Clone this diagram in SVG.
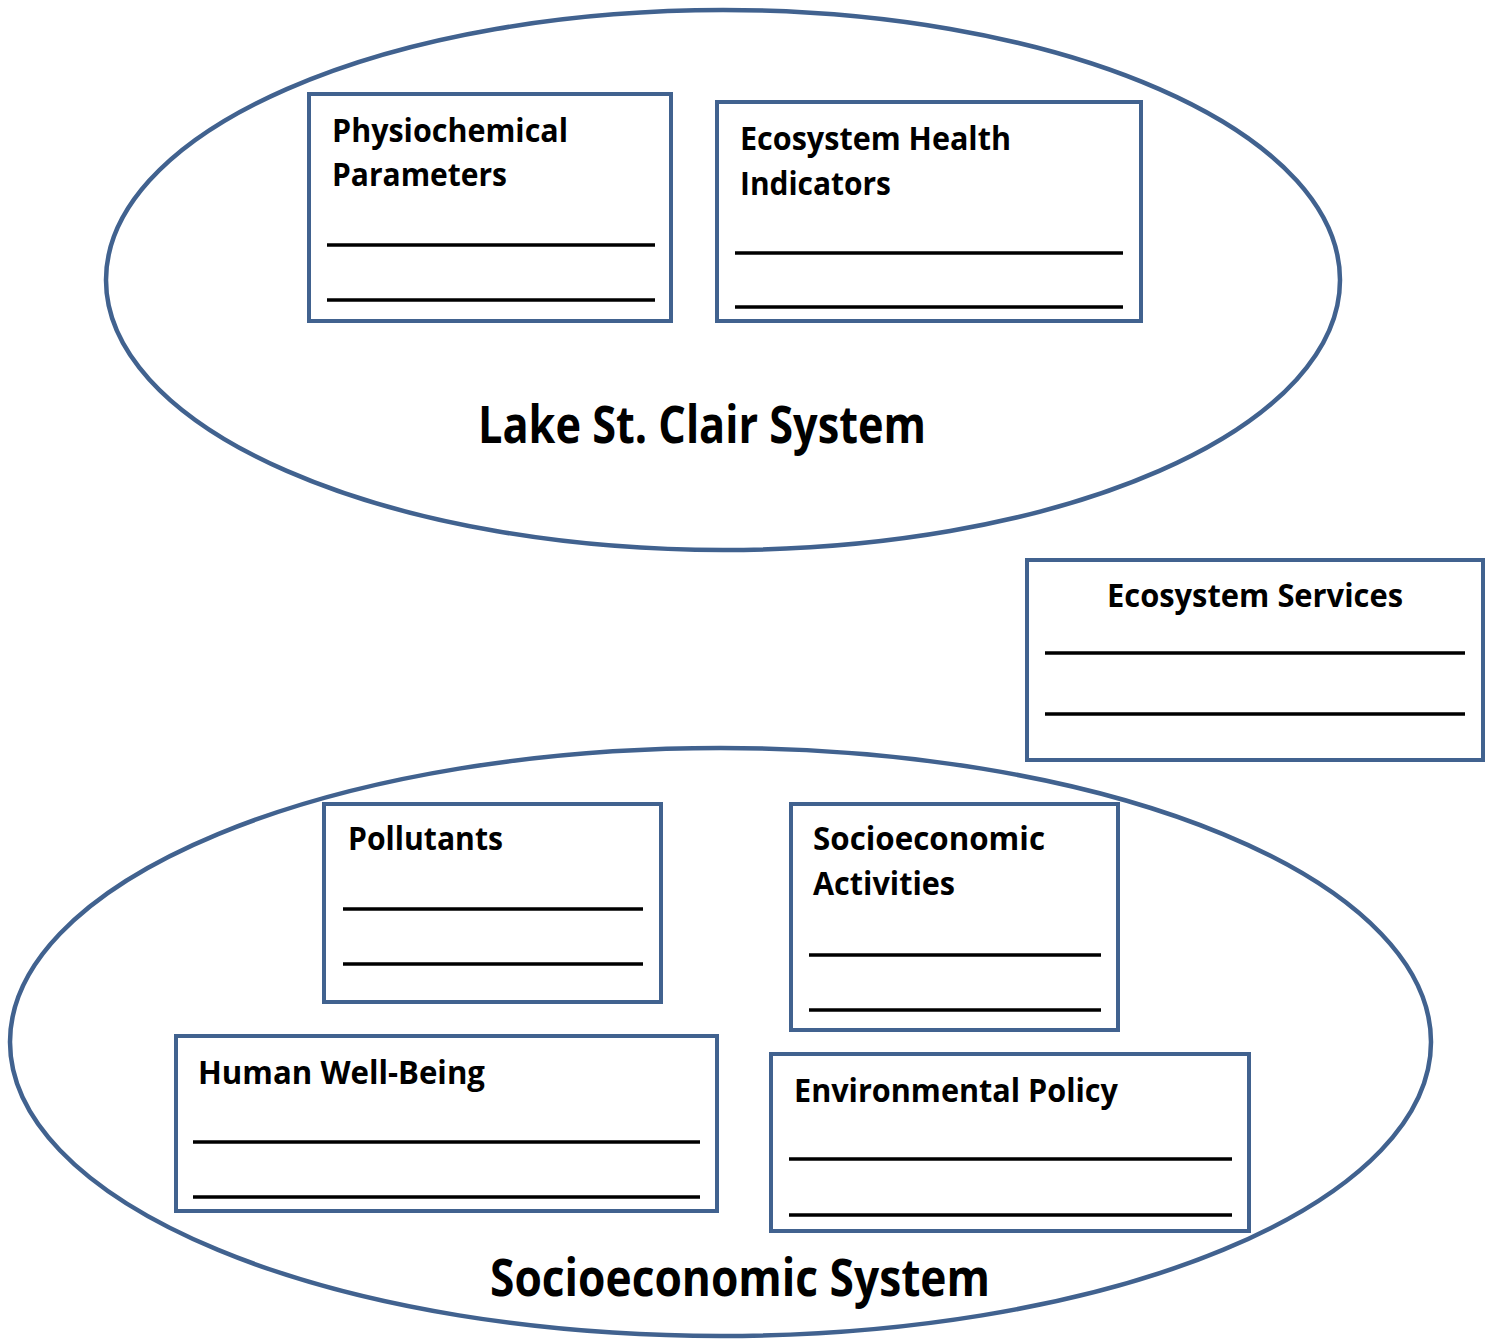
<svg xmlns="http://www.w3.org/2000/svg" width="1492" height="1341" viewBox="0 0 1492 1341">
  <style>
    .sys { fill: #ffffff; stroke: #41628f; stroke-width: 4.5; }
    .box { fill: #ffffff; stroke: #41628f; stroke-width: 4; }
    .rule { stroke: #000000; stroke-width: 3.5; }
    .lbl { font-family: "Open Sans", "Noto Sans", sans-serif; font-weight: bold; font-size: 33px; fill: #000000; }
    .title { font-family: "Open Sans", "Noto Sans", sans-serif; font-weight: bold; font-size: 52px; fill: #000000; }
  </style>
  <rect x="0" y="0" width="1492" height="1341" fill="#ffffff"/>

  <g id="lake-system">
    <ellipse class="sys" cx="723" cy="280" rx="617" ry="270"/>
    <text class="title" x="478" y="443" textLength="448" lengthAdjust="spacingAndGlyphs">Lake St. Clair System</text>
  </g>

  <g id="socioeconomic-system">
    <ellipse class="sys" cx="720.5" cy="1042" rx="710.5" ry="294"/>
    <text class="title" x="490" y="1296" textLength="500" lengthAdjust="spacingAndGlyphs">Socioeconomic System</text>
  </g>

  <g id="physiochemical-parameters">
    <rect class="box" x="309" y="94" width="362" height="227"/>
    <text class="lbl" x="332" y="142" textLength="236" lengthAdjust="spacingAndGlyphs">Physiochemical</text>
    <text class="lbl" x="332" y="186" textLength="175" lengthAdjust="spacingAndGlyphs">Parameters</text>
    <line class="rule" x1="327" y1="245" x2="655" y2="245"/>
    <line class="rule" x1="327" y1="300" x2="655" y2="300"/>
  </g>

  <g id="ecosystem-health-indicators">
    <rect class="box" x="717" y="102" width="424" height="219"/>
    <text class="lbl" x="740" y="150" textLength="271" lengthAdjust="spacingAndGlyphs">Ecosystem Health</text>
    <text class="lbl" x="740" y="195" textLength="151" lengthAdjust="spacingAndGlyphs">Indicators</text>
    <line class="rule" x1="735" y1="253" x2="1123" y2="253"/>
    <line class="rule" x1="735" y1="307" x2="1123" y2="307"/>
  </g>

  <g id="ecosystem-services">
    <rect class="box" x="1027" y="560" width="456" height="200"/>
    <text class="lbl" x="1107" y="607" textLength="296" lengthAdjust="spacingAndGlyphs">Ecosystem Services</text>
    <line class="rule" x1="1045" y1="653" x2="1465" y2="653"/>
    <line class="rule" x1="1045" y1="714" x2="1465" y2="714"/>
  </g>

  <g id="pollutants">
    <rect class="box" x="324" y="804" width="337" height="198"/>
    <text class="lbl" x="348" y="850" textLength="155" lengthAdjust="spacingAndGlyphs">Pollutants</text>
    <line class="rule" x1="343" y1="909" x2="643" y2="909"/>
    <line class="rule" x1="343" y1="964" x2="643" y2="964"/>
  </g>

  <g id="socioeconomic-activities">
    <rect class="box" x="791" y="804" width="327" height="226"/>
    <text class="lbl" x="813" y="850" textLength="232" lengthAdjust="spacingAndGlyphs">Socioeconomic</text>
    <text class="lbl" x="813" y="895" textLength="142" lengthAdjust="spacingAndGlyphs">Activities</text>
    <line class="rule" x1="809" y1="955" x2="1101" y2="955"/>
    <line class="rule" x1="809" y1="1010" x2="1101" y2="1010"/>
  </g>

  <g id="human-well-being">
    <rect class="box" x="176" y="1036" width="541" height="175"/>
    <text class="lbl" x="198" y="1084" textLength="287" lengthAdjust="spacingAndGlyphs">Human Well-Being</text>
    <line class="rule" x1="193" y1="1142" x2="700" y2="1142"/>
    <line class="rule" x1="193" y1="1197" x2="700" y2="1197"/>
  </g>

  <g id="environmental-policy">
    <rect class="box" x="771" y="1054" width="478" height="177"/>
    <text class="lbl" x="794" y="1102" textLength="324" lengthAdjust="spacingAndGlyphs">Environmental Policy</text>
    <line class="rule" x1="789" y1="1159" x2="1232" y2="1159"/>
    <line class="rule" x1="789" y1="1215" x2="1232" y2="1215"/>
  </g>

  <g id="connectors"></g>
</svg>
